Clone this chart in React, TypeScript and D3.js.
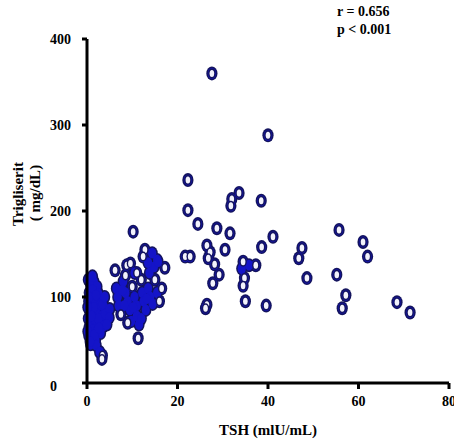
import React from "react";
import * as d3 from "d3";

const xTicks = [0, 20, 40, 60, 80];
const yTicks = [0, 100, 200, 300, 400];

// TSH (mIU/mL), Trigliserit (mg/dL)
const clusterLow: [number, number][] = [
  [0.3, 120], [0.8, 115], [1.5, 118], [2.2, 112], [0.5, 105], [1.2, 108], [2.5, 104],
  [3.0, 98], [0.4, 95], [1.0, 92], [1.8, 96], [2.8, 90], [3.8, 88], [4.5, 82],
  [0.6, 85], [1.4, 82], [2.3, 80], [3.3, 78], [4.2, 75], [0.3, 75], [1.0, 72],
  [1.9, 70], [2.8, 68], [3.6, 66], [0.5, 65], [1.3, 62], [2.2, 60], [3.0, 58],
  [0.4, 55], [1.1, 52], [1.9, 50], [0.8, 45], [2.0, 44], [0.5, 100], [1.5, 88],
  [2.5, 75], [1.0, 78], [0.2, 88], [0.2, 60], [1.2, 124], [2.8, 36], [3.4, 32],
  [3.3, 28], [2.0, 102], [3.5, 92], [4.0, 80], [1.6, 56], [2.6, 64], [0.7, 48],
  [5.0, 86], [4.9, 76], [4.4, 68], [3.9, 100],
];

const clusterMid: [number, number][] = [
  [6.5, 110], [6.8, 100], [7.0, 90], [7.5, 80], [8.0, 118], [8.5, 105], [9.0, 95],
  [9.5, 85], [9.8, 72], [10.0, 112], [10.5, 100], [11.0, 90], [11.0, 78], [11.5, 68],
  [12.0, 120], [12.2, 105], [12.5, 95], [13.0, 85], [13.5, 110], [14.0, 100],
  [14.5, 92], [15.0, 120], [15.5, 105], [16.0, 95], [16.5, 110], [8.5, 125],
  [10.5, 128], [9.0, 70], [12.0, 75], [13.8, 128], [14.8, 135], [8.8, 137],
  [9.6, 139], [12.8, 155], [14.4, 151], [15.5, 143], [17.2, 134], [12.4, 147],
  [13.5, 140], [11.0, 128], [6.2, 131], [10.2, 176], [11.3, 52], [15.7, 141],
  [7.8, 108], [10.2, 88], [13.2, 98], [8.2, 90],
];

const clusterHigh: [number, number][] = [
  [22.3, 236], [22.3, 201], [24.5, 185], [28.7, 180], [33.6, 221], [32.0, 214],
  [31.8, 206], [38.5, 212], [31.6, 174], [41.1, 170], [38.6, 158], [30.5, 155],
  [26.5, 160], [27.2, 152], [26.8, 145], [28.2, 138], [29.2, 126], [27.8, 116],
  [26.5, 91], [26.2, 87], [21.7, 147], [22.8, 147], [34.5, 141], [35.8, 137],
  [37.3, 137], [34.2, 133], [34.8, 122], [34.5, 113], [35.0, 95], [39.6, 90],
  [27.6, 360], [40.0, 288], [47.5, 157], [46.8, 145], [48.6, 122], [55.7, 178],
  [61.0, 164], [62.0, 147], [55.2, 126], [57.2, 102], [56.4, 87], [68.5, 94],
  [71.4, 82],
];

const points = [...clusterLow, ...clusterMid, ...clusterHigh];

const statLines = ["r = 0.656", "p < 0.001"];

export default function App() {
  const x = d3.scaleLinear().domain([0, 80]).range([87, 449]);
  const y = d3.scaleLinear().domain([0, 400]).range([383, 39]);
  const font = "'Liberation Serif', 'Times New Roman', serif";
  const navy = "#14145e";
  const blue = "#1414c8";

  const px = points.map((p) => [x(p[0]), y(p[1])] as [number, number]);
  // a marker packed among several others shows no light centre (solid blob)
  const crowded = px.map(
    (a, i) =>
      px.filter((b, j) => j !== i && Math.hypot(a[0] - b[0], (a[1] - b[1]) * 0.8) < 9).length >= 3
  );

  return (
    <svg
      width={454}
      height={443}
      style={{ position: "absolute", left: 0, top: 0, background: "#fff" }}
      fontFamily={font}
      fontWeight="bold"
    >
      <g>
        {px.map((p, i) => (
          <ellipse key={"o" + i} cx={p[0]} cy={p[1]} rx={5.6} ry={7.0} fill={navy} />
        ))}
      </g>
      <g>
        {px.map((p, i) => (
          <ellipse key={"b" + i} cx={p[0]} cy={p[1]} rx={4.1} ry={5.4} fill={blue} />
        ))}
      </g>
      <g>
        {px.map((p, i) =>
          crowded[i] ? null : (
            <g key={"w" + i}>
              <ellipse cx={p[0]} cy={p[1]} rx={3.7} ry={5.0} fill={navy} />
              <ellipse cx={p[0]} cy={p[1]} rx={2.3} ry={3.5} fill="#f2f2fc" />
            </g>
          )
        )}
      </g>

      <g stroke="#000" strokeWidth={3} fill="none">
        <line x1={x(0)} x2={x(0)} y1={y(400)} y2={y(0)} />
        <line x1={x(0)} x2={x(80)} y1={y(0)} y2={y(0)} />
        {yTicks.map((t) => (
          <line key={"yt" + t} x1={x(0) - 5} x2={x(0)} y1={y(t)} y2={y(t)} />
        ))}
        {xTicks.map((t) => (
          <line key={"xt" + t} x1={x(t)} x2={x(t)} y1={y(0)} y2={y(0) + 6} />
        ))}
      </g>

      <g fontSize={14} fill="#000">
        {yTicks.map((t) => (
          <text key={"yl" + t} x={50} y={y(t) + 5 + (t === 0 ? 3 : 0)} textAnchor="start">
            {t}
          </text>
        ))}
        {xTicks.map((t) => (
          <text key={"xl" + t} x={x(t)} y={406} textAnchor="middle">
            {t}
          </text>
        ))}
      </g>

      <text x={268} y={435} textAnchor="middle" fontSize={15}>
        TSH (mlU/mL)
      </text>
      <text transform="translate(23,194) rotate(-90)" textAnchor="middle" fontSize={15}>
        Trigliserit
      </text>
      <text transform="translate(40,193) rotate(-90)" textAnchor="middle" fontSize={15}>
        ( mg/dL)
      </text>

      {statLines.map((s, i) => (
        <text key={s} x={337} y={16 + i * 18} fontSize={14}>
          {s}
        </text>
      ))}
    </svg>
  );
}
